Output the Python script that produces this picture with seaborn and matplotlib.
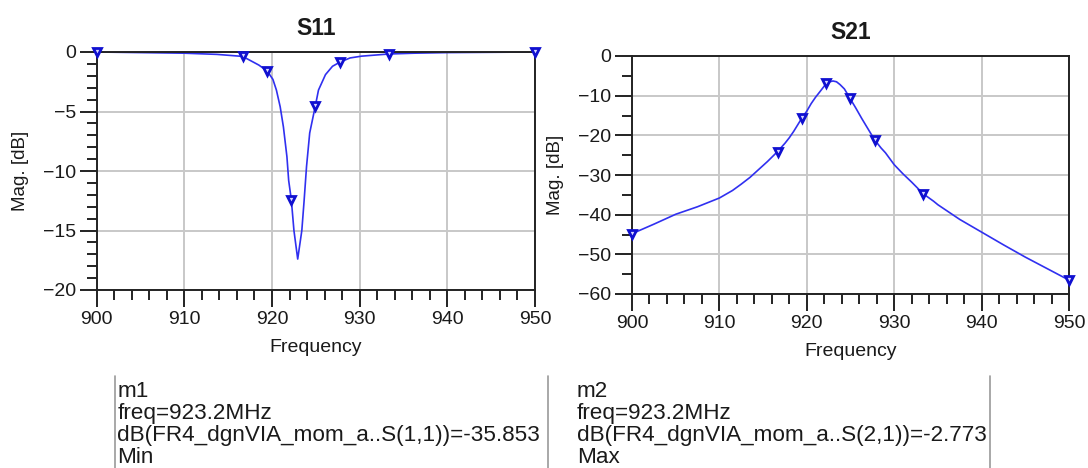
import matplotlib
matplotlib.use("Agg")
import matplotlib.pyplot as plt
from matplotlib.ticker import MultipleLocator
import seaborn as sns
import pandas as pd

# curva S11
freq_s11 = [900, 905, 910, 913.7, 916.65, 918.5, 919.45, 920.1, 920.5, 920.93, 921.3,
            921.7, 921.9, 922.2, 922.5, 922.93, 923.4, 923.66, 923.94, 924.3, 924.95,
            925.3, 926.1, 926.9, 927.75, 928.9, 930.2, 933.3, 936.2, 940, 950]
s11_db = [0, -0.05, -0.1, -0.2, -0.37, -1.1, -1.6, -2.3, -3.2, -4.6, -6.3,
          -8.8, -10.8, -12.4, -15.0, -17.4, -15.0, -12.5, -9.6, -6.8, -4.5,
          -3.2, -1.9, -1.2, -0.85, -0.5, -0.35, -0.17, -0.1, -0.05, 0]

# curva S21
freq_s21 = [900, 902.5, 905, 907.5, 910, 911.5, 912.5, 913.5, 914, 915, 915.5, 916.65,
            917.5, 918, 918.5, 919.45, 920, 920.5, 921, 921.5, 922.2, 922.6, 923, 923.4,
            923.8, 924.3, 924.95, 925.6, 926.3, 926.9, 927.75, 928.5, 929, 930, 931, 932,
            933.3, 934.5, 935, 937.5, 940, 942.5, 945, 947.5, 950]
s21_db = [-44.8, -42.4, -39.9, -38.0, -35.8, -33.9, -32.3, -30.6, -29.6, -27.6, -26.6, -24.1,
          -22.0, -20.6, -19.0, -15.6, -13.9, -12.0, -10.4, -9.0, -7.0, -6.5, -6.3, -6.5,
          -7.2, -8.3, -10.7, -13.1, -15.8, -18.0, -21.1, -23.2, -24.4, -27.4, -29.7, -31.8,
          -34.7, -36.6, -37.5, -41.2, -44.4, -47.6, -50.7, -53.6, -56.5]

# marcadores
freq_mk = [900, 916.65, 919.45, 922.2, 924.95, 927.75, 933.3, 950]
s11_mk = [0, -0.37, -1.6, -12.4, -4.5, -0.85, -0.17, 0]
s21_mk = [-44.8, -24.1, -15.6, -6.9, -10.7, -21.1, -34.7, -56.5]

marker_text = [
    ["m1", "freq=923.2MHz", "dB(FR4_dgnVIA_mom_a..S(1,1))=-35.853", "Min"],
    ["m2", "freq=923.2MHz", "dB(FR4_dgnVIA_mom_a..S(2,1))=-2.773", "Max"],
]

sns.set_theme(style="whitegrid")
plt.rcParams["font.family"] = ["Liberation Sans", "DejaVu Sans"]

W, H = 1088, 468
fig = plt.figure(figsize=(W / 100, H / 100), dpi=100)

azul = "#3030f0"
txt = "#1a1a1a"


def px_axes(x0, y0, x1, y1):
    return fig.add_axes([x0 / W, 1 - y1 / H, (x1 - x0) / W, (y1 - y0) / H])


def graficar(ax, f, v, fm, vm, titulo, ylim, ymajor, yminor):
    df = pd.DataFrame({"f": f, "v": v})
    sns.lineplot(data=df, x="f", y="v", ax=ax, color=azul, lw=1.2, sort=False)
    ax.plot(fm, vm, ls="none", marker="v", ms=6, mfc="#d8d8ff", mec="#1010d0",
            mew=2.0, clip_on=False, zorder=5)
    ax.set_xlim(900, 950)
    ax.set_ylim(*ylim)
    ax.xaxis.set_major_locator(MultipleLocator(10))
    ax.xaxis.set_minor_locator(MultipleLocator(2))
    ax.yaxis.set_major_locator(MultipleLocator(ymajor))
    ax.yaxis.set_minor_locator(MultipleLocator(yminor))
    ax.grid(True, which="major", color="#c8c8c8", lw=1.4)
    ax.grid(False, which="minor")
    ax.tick_params(which="major", direction="out", length=12, width=1.3,
                   color="#111111", labelsize=14, labelcolor=txt, pad=3,
                   left=True, bottom=True)
    ax.tick_params(which="minor", direction="out", length=7, width=1.3,
                   color="#111111", left=True, bottom=True)
    for s in ax.spines.values():
        s.set_color("#222222")
        s.set_linewidth(1.4)
    ax.set_facecolor("white")
    ax.set_title(titulo, fontsize=16.5, fontweight="bold", color=txt, pad=12)
    ax.set_xlabel("Frequency", fontsize=14, color=txt, labelpad=8)
    ax.set_ylabel("Mag. [dB]", fontsize=13.5, color=txt, labelpad=10)


ax1 = px_axes(96.7, 52, 535, 290)
graficar(ax1, freq_s11, s11_db, freq_mk, s11_mk, "S11", (-20, 0), 5, 1)

ax2 = px_axes(632, 56, 1069, 294)
graficar(ax2, freq_s21, s21_db, freq_mk, s21_mk, "S21", (-60, 0), 10, 5)

# cuadros de texto de los marcadores
for xl in [115, 548, 990]:
    fig.add_artist(plt.Line2D([xl / W, xl / W], [0, 1 - 376 / H],
                              color="#9a9a9a", lw=1.2))

baselines = [397, 419, 441, 463]
for x0, lineas in zip([117.5, 577], marker_text):
    for yb, t in zip(baselines, lineas):
        fig.text(x0 / W, 1 - yb / H, t, fontsize=16.2, color=txt,
                 ha="left", va="baseline")

fig.savefig("out.png", dpi=100, facecolor="white")
